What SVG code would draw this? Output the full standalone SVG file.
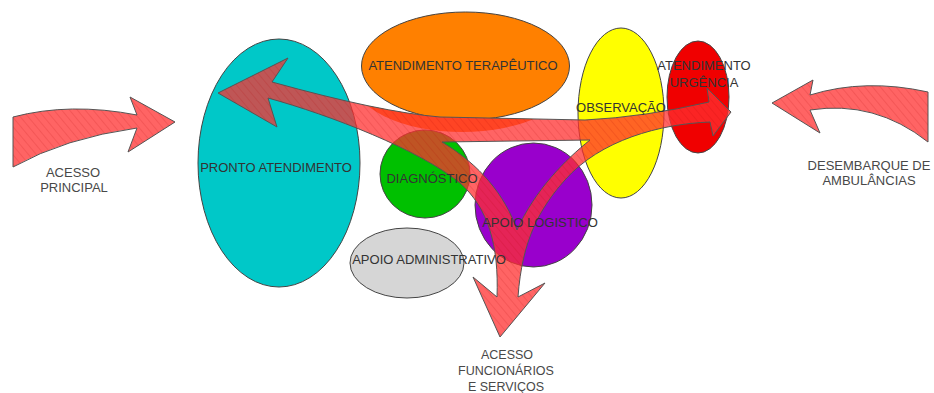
<svg xmlns="http://www.w3.org/2000/svg" width="934" height="393" viewBox="0 0 934 393">
  <style>
    .node { stroke: #444; stroke-width: 1; }
    .band { fill: #FF3030; fill-opacity: 0.75; stroke: #555; stroke-width: 1; stroke-linejoin: miter; fill-rule: evenodd; }
    .hatch { fill: url(#hatch); fill-rule: evenodd; stroke: none; }
    .lbl { font-family: "Liberation Sans", Arial, sans-serif; font-size: 13px; fill: #333; text-anchor: middle; }
    .out { font-family: "Liberation Sans", Arial, sans-serif; font-size: 13px; fill: #484848; text-anchor: middle; }
    .small { font-size: 12.5px; }
  </style>
  <defs>
    <pattern id="hatch" width="6" height="6" patternUnits="userSpaceOnUse" patternTransform="rotate(-40)">
      <line x1="0" y1="0" x2="0" y2="6" stroke="#B00000" stroke-opacity="0.18" stroke-width="1.5"/>
    </pattern>
    <clipPath id="bandClip">
      <path clip-rule="evenodd" d="M218,93 L288,58 L272,82 Q380,112 440,117 L585,120 Q645,117 709,102 L707,88 L731,112 L713,136 L710,122 C660,124 600,140 565,180 C540,208 522,240 518,297 L545,283 L500,337 L473,277 L497,297 C499,245 488,208 460,183 C420,150 330,115 268,98 L277,127 Z M442,142 L590,140 C565,160 535,190 517,230 C505,195 480,165 442,142 Z"/>
    </clipPath>
  </defs>

  <g id="pronto-atendimento"><ellipse class="node" cx="279" cy="163" rx="81" ry="124" fill="#00C8C8"/></g>
  <g id="atendimento-terapeutico"><ellipse class="node" cx="465.5" cy="66" rx="104" ry="54" fill="#FF8000"/></g>
  <g id="diagnostico"><ellipse class="node" cx="425" cy="174" rx="45" ry="44" fill="#00C000"/></g>
  <g id="apoio-logistico"><ellipse class="node" cx="533.5" cy="205" rx="58.5" ry="62" fill="#9900CC"/></g>
  <g id="apoio-administrativo"><ellipse class="node" cx="407" cy="263" rx="57" ry="35" fill="#D6D6D6"/></g>
  <g id="observacao"><ellipse class="node" cx="621" cy="113" rx="43" ry="85" fill="#FFFF00"/></g>
  <g id="atendimento-urgencia"><ellipse class="node" cx="698" cy="97" rx="31" ry="56" fill="#F00000"/></g>

  <g id="connectors">
    <ellipse cx="462" cy="78" rx="110" ry="54" fill="#FF8000" clip-path="url(#bandClip)"/>
    <path id="acesso-principal-arrow" class="band" d="M13,117 Q70,102 137,115 L130,97 L175,122 L128,152 L137,128 Q65,138 13,167 Z"/>
    <path class="hatch" d="M13,117 Q70,102 137,115 L130,97 L175,122 L128,152 L137,128 Q65,138 13,167 Z"/>
    <path id="desembarque-arrow" class="band" d="M772,103 L813,80 L810,95 Q865,78 928,92 L928,142 Q875,100 810,110 L820,133 Z"/>
    <path class="hatch" d="M772,103 L813,80 L810,95 Q865,78 928,92 L928,142 Q875,100 810,110 L820,133 Z"/>
    <path id="fluxo-interno" class="band" d="M218,93 L288,58 L272,82 Q380,112 440,117 L585,120 Q645,117 709,102 L707,88 L731,112 L713,136 L710,122 C660,124 600,140 565,180 C540,208 522,240 518,297 L545,283 L500,337 L473,277 L497,297 C499,245 488,208 460,183 C420,150 330,115 268,98 L277,127 Z M442,142 L590,140 C565,160 535,190 517,230 C505,195 480,165 442,142 Z"/>
    <path class="hatch" d="M218,93 L288,58 L272,82 Q380,112 440,117 L585,120 Q645,117 709,102 L707,88 L731,112 L713,136 L710,122 C660,124 600,140 565,180 C540,208 522,240 518,297 L545,283 L500,337 L473,277 L497,297 C499,245 488,208 460,183 C420,150 330,115 268,98 L277,127 Z M442,142 L590,140 C565,160 535,190 517,230 C505,195 480,165 442,142 Z"/>
  </g>

  <g id="labels">
    <text class="lbl" x="276" y="172">PRONTO ATENDIMENTO</text>
    <text class="lbl" x="463" y="70">ATENDIMENTO TERAPÊUTICO</text>
    <text class="lbl" x="432" y="183">DIAGNÓSTICO</text>
    <text class="lbl" x="540" y="227">APOIO LOGISTICO</text>
    <text class="lbl" x="429" y="264">APOIO ADMINISTRATIVO</text>
    <text class="lbl" x="621" y="112">OBSERVAÇÃO</text>
    <text class="lbl" x="704" y="70">ATENDIMENTO</text>
    <text class="lbl" x="704" y="87">URGÊNCIA</text>
    <text class="out" x="73" y="177">ACESSO</text>
    <text class="out" x="74" y="192">PRINCIPAL</text>
    <text class="out" x="869" y="170">DESEMBARQUE DE</text>
    <text class="out" x="869" y="185">AMBULÂNCIAS</text>
    <text class="out small" x="507" y="359">ACESSO</text>
    <text class="out small" x="506" y="375">FUNCIONÁRIOS</text>
    <text class="out small" x="506" y="391">E SERVIÇOS</text>
  </g>
</svg>
